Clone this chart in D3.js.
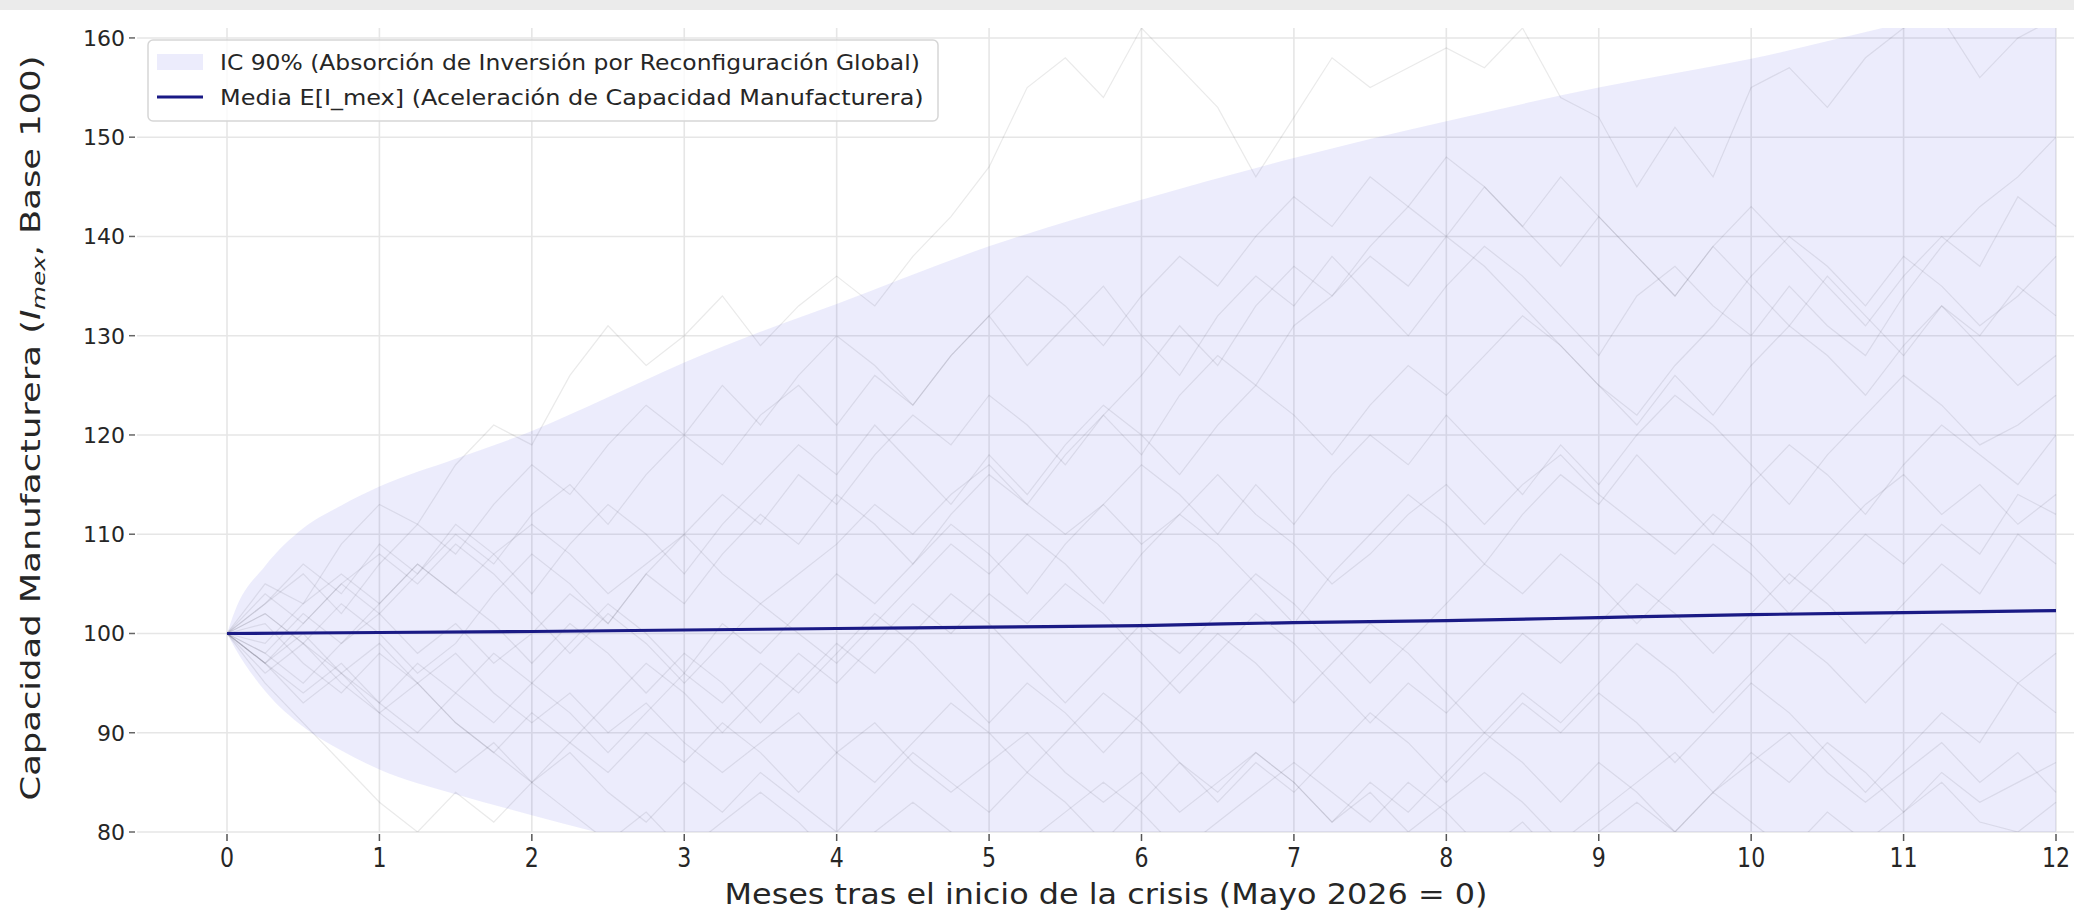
<!DOCTYPE html>
<html>
<head>
<meta charset="utf-8">
<script src="https://cdn.jsdelivr.net/npm/d3@7"></script>
<style>
  html, body { margin: 0; padding: 0; background: #fff; }
  svg { display: block; font-family: "DejaVu Sans", sans-serif; }
</style>
</head>
<body>
<svg id="chart"></svg>
<script>
// 90% band
const bandMonths = [0, 0.05, 0.25, 0.5, 0.75, 1, 1.5, 2, 2.5, 3, 3.5, 4, 5, 6, 7, 8, 9, 10, 11, 12];
const bandUpper = [100, 102.2, 106.8, 110.6, 112.9, 114.8, 117.6, 120.4, 123.8, 127.3, 130.4, 133.2, 139.0, 143.7, 147.9, 151.6, 155.0, 157.9, 161.5, 165];
const bandLower = [100, 98.6, 94.2, 90.6, 88.2, 86.3, 83.8, 81.7, 79.7, 78.0, 76.5, 75.1, 72.7, 70.6, 68.8, 67.2, 65.7, 64.3, 63.0, 61.8];

// mean path
const meanMonths = [0, 1, 2, 3, 4, 5, 6, 7, 8, 9, 10, 11, 12];
const meanValues = [100, 100.1, 100.2, 100.35, 100.5, 100.65, 100.8, 101.1, 101.3, 101.6, 101.9, 102.1, 102.3];

// sample paths (weekly-ish points, rough reading of the faint lines)
const pathMonths = [0, 0.25, 0.5, 0.75, 1, 1.25, 1.5, 1.75, 2, 2.25, 2.5, 2.75, 3, 3.25, 3.5, 3.75, 4, 4.25, 4.5, 4.75,
  5, 5.25, 5.5, 5.75, 6, 6.25, 6.5, 6.75, 7, 7.25, 7.5, 7.75, 8, 8.25, 8.5, 8.75, 9, 9.25, 9.5, 9.75,
  10, 10.25, 10.5, 10.75, 11, 11.25, 11.5, 11.75, 12];
const path01 = [100,105,103,109,113,111,117,121,119,126,131,127,130,134,129,133,136,133,138,142,147,155,158,154,161,157,153,146,152,158,155,157,159,157,161,154,152,145,151,146,155,157,153,158,161,162,156,160,162];
const path02 = [100,97,101,105,102,106,110,107,112,115,111,116,120,117,122,125,121,126,123,128,132,127,131,135,130,126,132,136,133,138,134,130,135,139,136,132,128,134,137,133,130,135,131,128,134,139,143,146,150];
const path03 = [100,102,99,103,100,96,99,104,108,105,101,106,110,114,111,116,113,118,122,119,124,121,117,122,126,131,127,133,137,134,139,143,140,145,141,137,142,138,134,139,143,139,135,131,136,140,137,144,141];
const path04 = [100,98,95,99,102,98,101,97,100,104,101,106,103,108,112,109,114,111,107,112,116,113,118,122,118,124,128,125,131,134,138,135,140,137,133,129,125,122,127,131,136,140,137,133,138,135,131,134,138];
const path05 = [100,103,107,104,109,106,111,108,104,109,113,110,106,111,115,119,116,121,117,113,118,114,119,123,120,116,121,125,122,118,123,127,124,128,132,129,125,121,126,122,127,131,128,124,129,133,130,135,132];
const path06 = [100,97,100,96,93,97,94,98,95,99,103,100,96,101,98,102,106,103,107,111,108,104,109,113,117,114,110,115,111,116,120,117,122,118,114,119,115,120,124,121,117,113,118,122,126,123,119,121,124];
const path07 = [100,104,101,105,108,105,109,106,102,98,102,99,95,99,103,100,97,101,105,109,106,110,107,103,108,112,109,105,101,106,110,114,111,107,112,116,113,118,114,110,115,119,116,112,117,121,118,115,120];
const path08 = [100,98,102,99,103,107,104,101,97,101,98,94,98,95,91,95,99,96,100,104,101,97,93,97,101,98,102,106,103,99,95,99,103,107,104,108,105,101,105,109,106,102,106,110,107,111,108,114,112];
const path09 = [100,101,97,94,98,95,91,88,92,89,93,97,94,90,94,98,95,99,103,100,104,101,105,102,98,94,98,102,99,95,91,95,92,96,100,97,101,105,102,98,102,106,103,99,103,107,104,110,107];
const path10 = [100,97,94,97,93,90,94,91,95,92,88,92,96,93,97,94,98,102,99,95,91,95,92,88,92,96,100,97,93,97,101,98,94,90,94,91,95,99,96,92,96,100,97,93,97,101,98,95,98];
const path11 = [100,95,91,87,83,80,84,81,85,89,86,90,87,91,88,84,88,85,89,93,90,86,90,94,91,87,83,87,84,88,92,89,85,89,93,90,94,91,87,91,95,92,88,84,88,92,89,95,92];
const path12 = [100,96,99,95,92,95,91,88,85,88,84,81,85,82,86,83,80,84,88,85,82,86,83,79,83,87,84,88,85,81,85,82,86,90,87,83,87,84,80,84,88,85,89,86,82,86,83,85,87];
const path13 = [100,97,93,96,92,89,86,89,85,82,79,82,78,81,84,81,77,80,83,80,76,79,82,85,82,78,81,84,87,84,81,85,82,78,81,77,80,83,80,84,81,78,82,79,82,85,81,80,83];
const path14 = [100,103,106,102,107,111,108,113,117,114,119,123,120,125,121,126,130,127,123,128,132,136,133,129,134,138,135,140,144,141,146,143,148,145,141,146,142,138,134,139,135,131,136,132,128,133,129,125,128];
const path15 = [100,102,99,96,99,95,98,94,91,94,90,93,89,86,89,92,88,91,87,84,87,90,86,83,86,82,85,88,85,81,84,80,83,86,83,79,82,85,88,84,87,90,86,83,86,89,85,88,84];
const path16 = [100,99,103,106,103,107,104,108,111,108,104,107,110,106,103,106,109,113,110,114,117,113,110,113,109,112,116,112,109,105,108,112,115,111,115,118,114,111,108,112,109,105,109,113,116,112,115,111,114];
const samplePaths = [path01, path02, path03, path04, path05, path06, path07, path08,
  path09, path10, path11, path12, path13, path14, path15, path16];

const xTicks = [0, 1, 2, 3, 4, 5, 6, 7, 8, 9, 10, 11, 12];
const yTicks = [80, 90, 100, 110, 120, 130, 140, 150, 160];

const legendBand = 'IC 90% (Absorción de Inversión por Reconfiguración Global)';
const legendMean = 'Media E[I_mex] (Aceleración de Capacidad Manufacturera)';
const xTitle = 'Meses tras el inicio de la crisis (Mayo 2026 = 0)';

const width = 2074, height = 915;
const bandColor = 'rgb(80,80,225)';
const meanColor = '#1a1a85';

const svg = d3.select('#chart').attr('width', width).attr('height', height);
svg.append('rect').attr('width', width).attr('height', height).attr('fill', '#fff');
// cropped strip along the top edge
svg.append('rect').attr('width', width).attr('height', 10).attr('fill', '#ebebeb');

const x = d3.scaleLinear().domain([0, 12]).range([227, 2056]);
const y = d3.scaleLinear().domain([80, 161]).range([832, 28]);
const left = x(-0.59), right = x(12.6);

svg.append('clipPath').attr('id', 'plot-clip')
  .append('rect').attr('x', left).attr('y', y(161)).attr('width', right - left).attr('height', y(80) - y(161));

// grid
const grid = svg.append('g');
grid.selectAll('.gx').data(xTicks).enter().append('line')
  .attr('x1', d => x(d)).attr('x2', d => x(d)).attr('y1', y(161)).attr('y2', y(80))
  .attr('stroke', '#e6e6e6').attr('stroke-width', 1.6);
grid.selectAll('.gy').data(yTicks).enter().append('line')
  .attr('x1', left).attr('x2', right).attr('y1', d => y(d)).attr('y2', d => y(d))
  .attr('stroke', '#e6e6e6').attr('stroke-width', 1.6);

const plot = svg.append('g').attr('clip-path', 'url(#plot-clip)');

// faint simulated paths
const pathLine = d3.line().x((d, i) => x(pathMonths[i])).y(d => y(d));
plot.selectAll('.sim').data(samplePaths).enter().append('path')
  .attr('d', pathLine).attr('fill', 'none')
  .attr('stroke', '#333').attr('stroke-opacity', 0.1).attr('stroke-width', 1.2);

// 90% band
const band = d3.area().curve(d3.curveMonotoneX)
  .x((d, i) => x(bandMonths[i])).y0((d, i) => y(bandLower[i])).y1(d => y(d));
plot.append('path').attr('d', band(bandUpper)).attr('fill', bandColor).attr('fill-opacity', 0.11);

// mean
const meanLine = d3.line().curve(d3.curveMonotoneX).x((d, i) => x(meanMonths[i])).y(d => y(d));
plot.append('path').attr('d', meanLine(meanValues)).attr('fill', 'none')
  .attr('stroke', meanColor).attr('stroke-width', 3.2);

// squeeze a text to a target width (picture text is horizontally condensed)
function fit(t, w, tx, ty, rot) {
  const len = t.node().getComputedTextLength();
  t.attr('transform', `translate(${tx},${ty})${rot ? ' rotate(' + rot + ')' : ''} scale(${w / len},1)`);
}

// y axis ticks
const yAxis = svg.append('g');
yAxis.selectAll('.tk').data(yTicks).enter().append('line')
  .attr('x1', 129).attr('x2', 135).attr('y1', d => y(d)).attr('y2', d => y(d))
  .attr('stroke', '#666').attr('stroke-width', 1.5);
yAxis.selectAll('.lb').data(yTicks).enter().append('text')
  .attr('x', 125).attr('y', d => y(d)).attr('dy', '0.36em').attr('text-anchor', 'end')
  .attr('font-size', 22).attr('fill', '#262626').text(d => d);

// x axis ticks
const xAxis = svg.append('g');
xAxis.selectAll('.tk').data(xTicks).enter().append('line')
  .attr('x1', d => x(d)).attr('x2', d => x(d)).attr('y1', 834).attr('y2', 841)
  .attr('stroke', '#555').attr('stroke-width', 1.5);
xAxis.selectAll('.lb').data(xTicks).enter().append('text')
  .attr('transform', d => `translate(${x(d)},867) scale(0.85,1)`).attr('text-anchor', 'middle')
  .attr('font-size', 26).attr('fill', '#262626').text(d => d);

// axis titles
const xt = svg.append('text').attr('font-size', 28).attr('fill', '#262626').attr('text-anchor', 'middle').text(xTitle);
fit(xt, 763, 1106, 904);

const yt = svg.append('text').attr('font-size', 26).attr('fill', '#262626').attr('text-anchor', 'middle');
yt.append('tspan').text('Capacidad Manufacturera (');
yt.append('tspan').attr('font-style', 'italic').text('I');
yt.append('tspan').attr('font-style', 'italic').attr('font-size', 18).attr('dy', 5).text('mex');
yt.append('tspan').attr('dy', -5).text(', Base 100)');
fit(yt, 745, 40, 428, -90);

// legend
const lg = svg.append('g');
lg.append('rect').attr('x', 148).attr('y', 40).attr('width', 790).attr('height', 81).attr('rx', 5)
  .attr('fill', '#fff').attr('fill-opacity', 0.8).attr('stroke', '#d6d6d6').attr('stroke-width', 1.5);
lg.append('rect').attr('x', 157).attr('y', 54).attr('width', 46).attr('height', 16)
  .attr('fill', bandColor).attr('fill-opacity', 0.11);
lg.append('line').attr('x1', 157).attr('x2', 203).attr('y1', 97).attr('y2', 97)
  .attr('stroke', meanColor).attr('stroke-width', 3);
const l1 = lg.append('text').attr('font-size', 22).attr('fill', '#262626').text(legendBand);
fit(l1, 700, 220, 70);
const l2 = lg.append('text').attr('font-size', 22).attr('fill', '#262626').text(legendMean);
fit(l2, 704, 220, 105);
</script>
</body>
</html>
